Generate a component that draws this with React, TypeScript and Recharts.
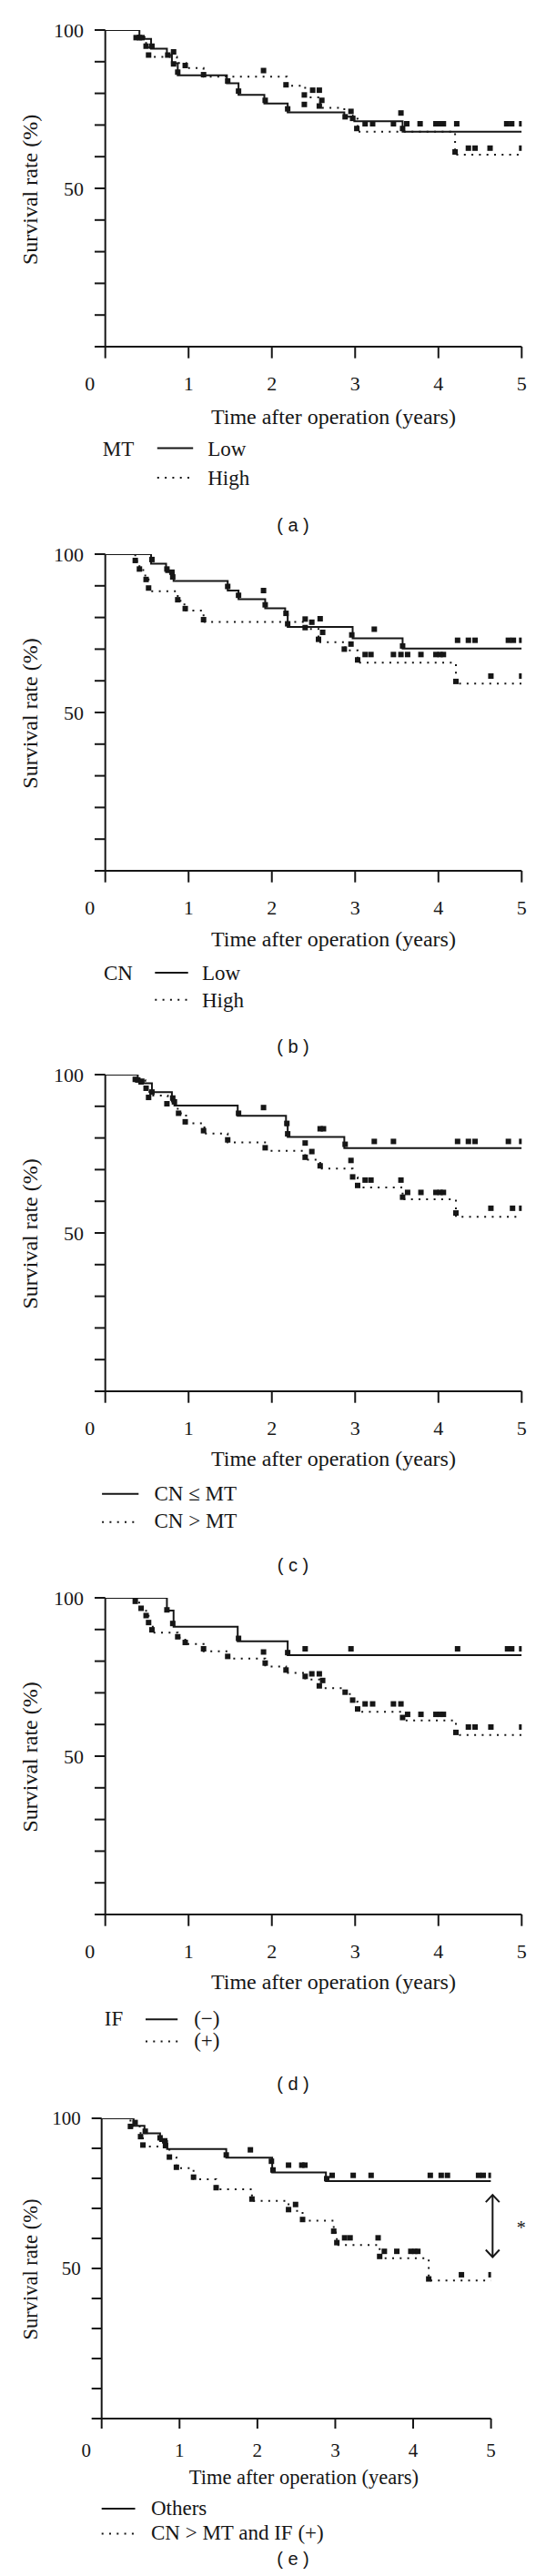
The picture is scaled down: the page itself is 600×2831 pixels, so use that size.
import React from 'react';
import { ComposedChart, Line, Scatter, XAxis, YAxis, ReferenceLine } from 'recharts';

type Pt = [number, number];

// ---------- shared axis data ----------
const X_TICKS = [0, 1, 2, 3, 4, 5];
const Y_TICKS = [0, 10, 20, 30, 40, 50, 60, 70, 80, 90, 100];
const Y_LABELED = [50, 100];
const X_TITLE = 'Time after operation (years)';
const Y_TITLE = 'Survival rate (%)';

// ---------- panel (a): MT ----------
const A_LOW: Pt[] = [[0, 100], [0.41, 97.2], [0.55, 94.1], [0.74, 92.1], [0.8, 89.5], [0.87, 85.7], [1.46, 83.2], [1.6, 79.5], [1.91, 76.8], [2.19, 74.0], [2.87, 72.6], [2.99, 71.2], [3.57, 67.9], [5, 67.9]];
const A_HIGH: Pt[] = [[0, 100], [0.4, 97.8], [0.49, 94.9], [0.53, 91.5], [0.86, 89.6], [0.97, 88.0], [1.18, 85.3], [2.18, 82.4], [2.4, 78.7], [2.58, 75.4], [2.87, 73.0], [2.97, 72.0], [3.03, 67.9], [4.2, 60.6], [5, 60.6]];
const A_CENSORED: Pt[] = [[0.37, 97.6], [0.41, 97.6], [0.44, 97.6], [0.49, 94.9], [0.56, 94.9], [0.52, 92.1], [0.75, 92.1], [0.82, 93.1], [0.82, 89.3], [0.87, 86.7], [0.96, 88.8], [1.18, 85.9], [1.47, 83.9], [1.6, 80.7], [1.9, 87.2], [1.92, 77.8], [2.17, 82.7], [2.19, 75.1], [2.39, 79.5], [2.39, 76.5], [2.49, 81.0], [2.57, 81.0], [2.6, 77.8], [2.57, 76.0], [2.95, 74.3], [2.88, 72.6], [2.97, 72.1], [3.02, 68.9], [3.12, 70.4], [3.21, 70.4], [3.46, 70.4], [3.55, 73.8], [3.57, 68.9], [3.62, 70.4], [3.78, 70.4], [3.97, 70.4], [4.02, 70.4], [4.06, 70.4], [4.22, 70.4], [4.82, 70.4], [4.88, 70.4], [5.0, 70.4], [4.2, 61.5], [4.36, 62.7], [4.44, 62.7], [4.62, 62.7], [5.0, 62.7]];
const A_GROUP = 'MT';
const A_LABELS = ['Low', 'High'];

// ---------- panel (b): CN ----------
const B_LOW: Pt[] = [[0, 100], [0.55, 97.0], [0.73, 94.3], [0.82, 91.5], [1.47, 88.5], [1.6, 85.8], [1.92, 82.9], [2.16, 81.0], [2.19, 77.0], [2.97, 73.4], [3.57, 70.2], [5, 70.2]];
const B_HIGH: Pt[] = [[0, 100], [0.36, 97.8], [0.41, 95.0], [0.48, 92.0], [0.52, 88.3], [0.87, 85.3], [0.95, 82.2], [1.18, 78.6], [2.39, 76.4], [2.56, 72.2], [2.88, 69.6], [3.03, 65.7], [4.21, 59.1], [5, 59.1]];
const B_CENSORED: Pt[] = [[0.36, 98.0], [0.41, 95.3], [0.49, 92.0], [0.52, 89.3], [0.56, 98.3], [0.74, 95.3], [0.8, 94.3], [0.81, 92.8], [0.87, 85.6], [0.96, 82.8], [1.18, 79.3], [1.47, 89.8], [1.6, 87.0], [1.9, 88.5], [1.92, 84.0], [2.17, 81.3], [2.19, 78.0], [2.4, 79.5], [2.4, 76.8], [2.48, 78.5], [2.58, 79.6], [2.61, 75.3], [2.56, 73.1], [2.96, 74.5], [2.95, 71.6], [2.87, 70.0], [3.23, 76.3], [3.03, 66.6], [3.12, 68.3], [3.19, 68.3], [3.46, 68.3], [3.55, 68.3], [3.63, 68.3], [3.57, 71.0], [3.79, 68.3], [3.97, 68.3], [4.02, 68.3], [4.06, 68.3], [4.23, 72.8], [4.36, 72.8], [4.44, 72.8], [4.84, 72.8], [4.9, 72.8], [5.0, 72.8], [4.21, 59.8], [4.63, 61.5], [5.0, 61.5]];
const B_GROUP = 'CN';
const B_LABELS = ['Low', 'High'];

// ---------- panel (c): CN vs MT ----------
const C_LOW: Pt[] = [[0, 100], [0.39, 98.5], [0.46, 97.3], [0.56, 94.5], [0.8, 91.5], [0.83, 90.2], [1.59, 87.0], [2.17, 84.0], [2.19, 80.3], [2.87, 76.8], [5, 76.8]];
const C_HIGH: Pt[] = [[0, 100], [0.4, 98.3], [0.48, 95.7], [0.53, 93.4], [0.75, 90.8], [0.87, 87.8], [0.97, 84.6], [1.19, 81.4], [1.47, 78.6], [1.93, 75.9], [2.4, 73.1], [2.58, 70.3], [2.97, 67.5], [3.03, 64.4], [3.57, 60.6], [4.21, 55.1], [5, 55.1]];
const C_CENSORED: Pt[] = [[0.36, 98.5], [0.39, 98.3], [0.43, 97.7], [0.49, 95.7], [0.52, 92.8], [0.56, 94.5], [0.74, 90.8], [0.81, 92.6], [0.83, 91.4], [0.88, 87.8], [0.96, 85.1], [1.18, 82.3], [1.47, 79.4], [1.6, 87.8], [1.9, 89.6], [1.92, 76.9], [2.18, 84.6], [2.19, 81.3], [2.58, 82.9], [2.62, 82.9], [2.4, 78.4], [2.4, 73.9], [2.48, 75.7], [2.58, 71.2], [2.88, 78.0], [2.95, 72.9], [2.97, 67.7], [3.03, 65.0], [3.23, 78.9], [3.46, 78.9], [3.12, 66.7], [3.19, 66.7], [3.55, 66.7], [3.57, 61.3], [3.63, 62.8], [3.79, 62.8], [3.97, 62.8], [4.02, 62.8], [4.06, 62.8], [4.23, 78.9], [4.36, 78.9], [4.44, 78.9], [4.84, 78.9], [5.0, 78.9], [4.21, 56.3], [4.63, 57.8], [4.89, 57.8], [5.0, 57.8]];
const C_GROUP = '';
const C_LABELS = ['CN \u2264 MT', 'CN > MT'];

// ---------- panel (d): IF ----------
const D_LOW: Pt[] = [[0, 100], [0.74, 96.0], [0.82, 90.9], [1.59, 86.3], [2.19, 81.9], [5, 81.9]];
const D_HIGH: Pt[] = [[0, 100], [0.37, 98.5], [0.43, 96.5], [0.49, 94.3], [0.52, 92.0], [0.57, 89.0], [0.87, 87.4], [0.96, 85.4], [1.18, 83.1], [1.47, 80.8], [1.92, 78.3], [2.17, 76.3], [2.4, 74.2], [2.57, 71.5], [2.88, 69.6], [2.97, 67.2], [3.03, 64.0], [3.57, 61.3], [4.21, 56.7], [5, 56.7]];
const D_CENSORED: Pt[] = [[0.36, 98.9], [0.43, 96.7], [0.49, 94.4], [0.52, 92.2], [0.56, 89.9], [0.74, 96.2], [0.81, 91.9], [0.87, 87.7], [0.96, 85.9], [1.18, 83.9], [1.47, 81.5], [1.6, 87.2], [1.9, 82.9], [1.92, 79.4], [2.17, 77.2], [2.19, 82.7], [2.4, 83.9], [2.95, 83.9], [4.23, 83.9], [4.83, 83.9], [4.88, 83.9], [5.0, 83.9], [2.4, 75.2], [2.48, 76.0], [2.57, 76.0], [2.61, 73.9], [2.57, 72.2], [2.88, 70.2], [2.97, 67.7], [3.03, 64.9], [3.12, 66.5], [3.21, 66.5], [3.46, 66.5], [3.55, 66.5], [3.57, 62.2], [3.63, 63.2], [3.79, 63.2], [3.97, 63.2], [4.02, 63.2], [4.06, 63.2], [4.21, 57.5], [4.36, 59.2], [4.44, 59.2], [4.63, 59.2], [5.0, 59.2]];
const D_GROUP = 'IF';
const D_LABELS = ['(\u2212)', '(+)'];

// ---------- panel (e): combined ----------
const E_LOW: Pt[] = [[0, 100], [0.41, 97.5], [0.55, 95.0], [0.75, 92.4], [0.84, 89.8], [1.6, 86.9], [2.19, 82.0], [2.88, 79.1], [5, 79.1]];
const E_HIGH: Pt[] = [[0, 100], [0.37, 97.3], [0.5, 94.0], [0.53, 90.6], [0.87, 87.0], [0.96, 83.4], [1.18, 79.7], [1.47, 76.4], [1.93, 72.5], [2.4, 69.2], [2.58, 65.9], [2.98, 62.0], [3.02, 57.8], [3.57, 53.4], [4.2, 46.0], [5, 46.0]];
const E_CENSORED: Pt[] = [[0.37, 97.3], [0.43, 98.6], [0.5, 93.9], [0.53, 91.1], [0.56, 95.7], [0.75, 93.5], [0.81, 92.5], [0.82, 90.9], [0.87, 87.1], [0.96, 83.7], [1.18, 80.4], [1.47, 76.9], [1.6, 87.8], [1.91, 89.5], [1.93, 73.1], [2.18, 85.7], [2.2, 82.8], [2.4, 84.4], [2.57, 84.4], [2.61, 84.4], [2.4, 69.6], [2.49, 71.3], [2.58, 66.3], [2.89, 79.9], [2.96, 81.0], [3.23, 81.0], [3.46, 81.0], [2.98, 62.4], [3.02, 58.6], [3.12, 60.2], [3.19, 60.2], [3.55, 60.2], [3.57, 54.0], [3.63, 55.7], [3.79, 55.7], [3.97, 55.7], [4.02, 55.7], [4.06, 55.7], [4.22, 81.0], [4.36, 81.0], [4.44, 81.0], [4.84, 81.0], [4.9, 81.0], [5.0, 81.0], [4.2, 46.5], [4.62, 47.9], [5.0, 47.9]];
const E_GROUP = '';
const E_LABELS = ['Others', 'CN > MT and IF (+)'];
const E_ARROW = { t: 5.02, from: 74.5, to: 53.8, mark: '*' };

// ---------- styling ----------
const INK = '#161616';
const SERIF = "'Liberation Serif', 'Times New Roman', 'DejaVu Serif', serif";
const SANS = "'Liberation Sans', Arial, sans-serif";
const DOTS = '2 6.3';

interface TextLayout {
  groupX: number;
  x1: number;
  x2: number;
  textX: number;
  l1: number;
  t1: number;
  l2: number;
  t2: number;
  titleX: number;
  titleY: number;
  capY: number;
}

interface PanelCfg {
  top: number;
  left: number;
  right: number;
  plotH: number;
  tickFs: number;
  xTickSize: number;
  xTickMargin: number;
  yTickSize: number;
  titleFs: number;
  legendFs: number;
  low: Pt[];
  high: Pt[];
  cens: Pt[];
  group: string;
  labels: string[];
  caption: string;
  txt: TextLayout;
  arrow?: { t: number; from: number; to: number; mark: string };
}

const PANELS: PanelCfg[] = [
  {
    top: 33.4, left: 115.7, right: 573.3, plotH: 348, tickFs: 22, xTickSize: 12.7, xTickMargin: 19.6, yTickSize: 11.7, titleFs: 24, legendFs: 23,
    low: A_LOW, high: A_HIGH, cens: A_CENSORED, group: A_GROUP, labels: A_LABELS, caption: '( a )',
    txt: { groupX: 112.8, x1: 172.8, x2: 212.2, textX: 228.2, l1: 492.5, t1: 500.6, l2: 525, t2: 532.7, titleX: 366.4, titleY: 466.1, capY: 577.9 },
  },
  {
    top: 609, left: 115.7, right: 573.3, plotH: 348, tickFs: 22, xTickSize: 12.7, xTickMargin: 19.6, yTickSize: 11.7, titleFs: 24, legendFs: 23,
    low: B_LOW, high: B_HIGH, cens: B_CENSORED, group: B_GROUP, labels: B_LABELS, caption: '( b )',
    txt: { groupX: 114, x1: 170.3, x2: 206.7, textX: 222, l1: 1069, t1: 1076.6, l2: 1098.8, t2: 1107.3, titleX: 366.4, titleY: 1040.3, capY: 1151.3 },
  },
  {
    top: 1180.9, left: 115.7, right: 573.3, plotH: 348, tickFs: 22, xTickSize: 12.7, xTickMargin: 19.6, yTickSize: 11.7, titleFs: 24, legendFs: 23,
    low: C_LOW, high: C_HIGH, cens: C_CENSORED, group: C_GROUP, labels: C_LABELS, caption: '( c )',
    txt: { groupX: 0, x1: 112.1, x2: 152.3, textX: 169.5, l1: 1641.7, t1: 1648.6, l2: 1672.7, t2: 1679.2, titleX: 366.4, titleY: 1611.4, capY: 1721.3 },
  },
  {
    top: 1755.9, left: 115.7, right: 573.3, plotH: 348, tickFs: 22, xTickSize: 12.7, xTickMargin: 19.6, yTickSize: 11.7, titleFs: 24, legendFs: 23,
    low: D_LOW, high: D_HIGH, cens: D_CENSORED, group: D_GROUP, labels: D_LABELS, caption: '( d )',
    txt: { groupX: 114.8, x1: 160, x2: 195.2, textX: 213.2, l1: 2219.3, t1: 2226.2, l2: 2243.4, t2: 2250.3, titleX: 366.4, titleY: 2186, capY: 2291.3 },
  },
  {
    top: 2328.1, left: 111.7, right: 539.6, plotH: 330, tickFs: 21, xTickSize: 11, xTickMargin: 16, yTickSize: 11, titleFs: 22.5, legendFs: 23,
    low: E_LOW, high: E_HIGH, cens: E_CENSORED, group: E_GROUP, labels: E_LABELS, caption: '( e )',
    txt: { groupX: 0, x1: 111.7, x2: 148.5, textX: 166, l1: 2757, t1: 2763.5, l2: 2784.5, t2: 2790.5, titleX: 333.9, titleY: 2730, capY: 2813 },
    arrow: E_ARROW,
  },
];

const toRows = (pts: Pt[]) => pts.map(([t, s]) => ({ t, s }));

const Square = (props: any) => {
  const { cx, cy } = props;
  if (cx == null || cy == null) return <g />;
  return <rect x={cx - 3} y={cy - 3} width={6} height={6} fill={INK} />;
};

const makeXTick = (fs: number) => (props: any) => {
  const { x, y, payload } = props;
  const shift = payload.value === 0 ? -17 : 0;
  return (
    <text x={x + shift} y={y} dy="0.71em" textAnchor="middle" fontSize={fs} fontFamily={SERIF} fill={INK}>
      {payload.value}
    </text>
  );
};

const makeArrow = (mark: string) => (props: any) => {
  const { x1, y1, y2 } = props;
  const top = Math.min(y1, y2);
  const bot = Math.max(y1, y2);
  const hw = 7.5;
  const hh = 8;
  return (
    <g>
      <line x1={x1} x2={x1} y1={top} y2={bot} stroke={INK} strokeWidth={2} />
      <polyline points={`${x1 - hw},${top + hh} ${x1},${top} ${x1 + hw},${top + hh}`} fill="none" stroke={INK} strokeWidth={2} />
      <polyline points={`${x1 - hw},${bot - hh} ${x1},${bot} ${x1 + hw},${bot - hh}`} fill="none" stroke={INK} strokeWidth={2} />
      <text x={x1 + 31.5} y={(top + bot) / 2 + 9} textAnchor="middle" fontSize={20} fontFamily={SERIF} fill={INK}>{mark}</text>
    </g>
  );
};

const MT = 28;
const XH = 60;

function PanelChart({ cfg }: { cfg: PanelCfg }) {
  const H = MT + cfg.plotH + XH;
  return (
    <div style={{ position: 'absolute', left: 0, top: cfg.top - MT, width: 600, height: H }}>
      <ComposedChart width={600} height={H} margin={{ top: MT, right: 600 - cfg.right, bottom: 0, left: 0 }}>
        <XAxis
          type="number"
          dataKey="t"
          domain={[0, 5]}
          ticks={X_TICKS}
          interval={0}
          allowDataOverflow
          height={XH}
          tickSize={cfg.xTickSize}
          tickMargin={cfg.xTickMargin}
          axisLine={{ stroke: INK, strokeWidth: 2 }}
          tickLine={{ stroke: INK, strokeWidth: 2 }}
          tick={makeXTick(cfg.tickFs)}
        />
        <YAxis
          type="number"
          dataKey="s"
          domain={[0, 100]}
          ticks={Y_TICKS}
          interval={0}
          allowDataOverflow
          width={cfg.left}
          tickSize={cfg.yTickSize}
          tickMargin={12}
          axisLine={{ stroke: INK, strokeWidth: 2 }}
          tickLine={{ stroke: INK, strokeWidth: 2 }}
          tick={{ fontSize: cfg.tickFs, fontFamily: SERIF, fill: INK }}
          tickFormatter={(v: number) => (Y_LABELED.includes(v) ? String(v) : '')}
        />
        <Line
          data={toRows(cfg.low)}
          dataKey="s"
          type="stepAfter"
          stroke={INK}
          strokeWidth={2}
          dot={false}
          activeDot={false}
          isAnimationActive={false}
        />
        <Line
          data={toRows(cfg.high)}
          dataKey="s"
          type="stepAfter"
          stroke={INK}
          strokeWidth={2}
          strokeDasharray={DOTS}
          dot={false}
          activeDot={false}
          isAnimationActive={false}
        />
        <Scatter data={toRows(cfg.cens)} dataKey="s" shape={Square} isAnimationActive={false} />
        {cfg.arrow ? (
          <ReferenceLine
            segment={[{ x: cfg.arrow.t, y: cfg.arrow.from }, { x: cfg.arrow.t, y: cfg.arrow.to }]}
            ifOverflow="visible"
            shape={makeArrow(cfg.arrow.mark)}
          />
        ) : null}
      </ComposedChart>
    </div>
  );
}

function PanelText({ cfg }: { cfg: PanelCfg }) {
  const T = cfg.txt;
  const yMid = cfg.top + cfg.plotH / 2 + 1;
  return (
    <g fill={INK}>
      <text
        x={41}
        y={yMid}
        transform={`rotate(-90 41 ${yMid})`}
        textAnchor="middle"
        fontSize={cfg.titleFs}
        fontFamily={SERIF}
      >
        {Y_TITLE}
      </text>
      <text x={T.titleX} y={T.titleY} textAnchor="middle" fontSize={cfg.titleFs} fontFamily={SERIF}>
        {X_TITLE}
      </text>
      {cfg.group ? (
        <text x={T.groupX} y={T.t1} fontSize={cfg.legendFs} fontFamily={SERIF}>
          {cfg.group}
        </text>
      ) : null}
      <line x1={T.x1} x2={T.x2} y1={T.l1} y2={T.l1} stroke={INK} strokeWidth={2} />
      <text x={T.textX} y={T.t1} fontSize={cfg.legendFs} fontFamily={SERIF}>
        {cfg.labels[0]}
      </text>
      <line x1={T.x1} x2={T.x2} y1={T.l2} y2={T.l2} stroke={INK} strokeWidth={2} strokeDasharray={DOTS} />
      <text x={T.textX} y={T.t2} fontSize={cfg.legendFs} fontFamily={SERIF}>
        {cfg.labels[1]}
      </text>
      <text x={322} y={T.capY + 6} textAnchor="middle" fontSize={20} fontFamily={SANS}>
        {cfg.caption}
      </text>
    </g>
  );
}

export default function App() {
  return (
    <div style={{ position: 'absolute', left: 0, top: 0, width: 600, height: 2831, background: '#fff', overflow: 'hidden' }}>
      {PANELS.map((cfg, i) => (
        <PanelChart key={i} cfg={cfg} />
      ))}
      <svg
        width={600}
        height={2831}
        style={{ position: 'absolute', left: 0, top: 0, pointerEvents: 'none' }}
      >
        {PANELS.map((cfg, i) => (
          <PanelText key={i} cfg={cfg} />
        ))}
      </svg>
    </div>
  );
}
